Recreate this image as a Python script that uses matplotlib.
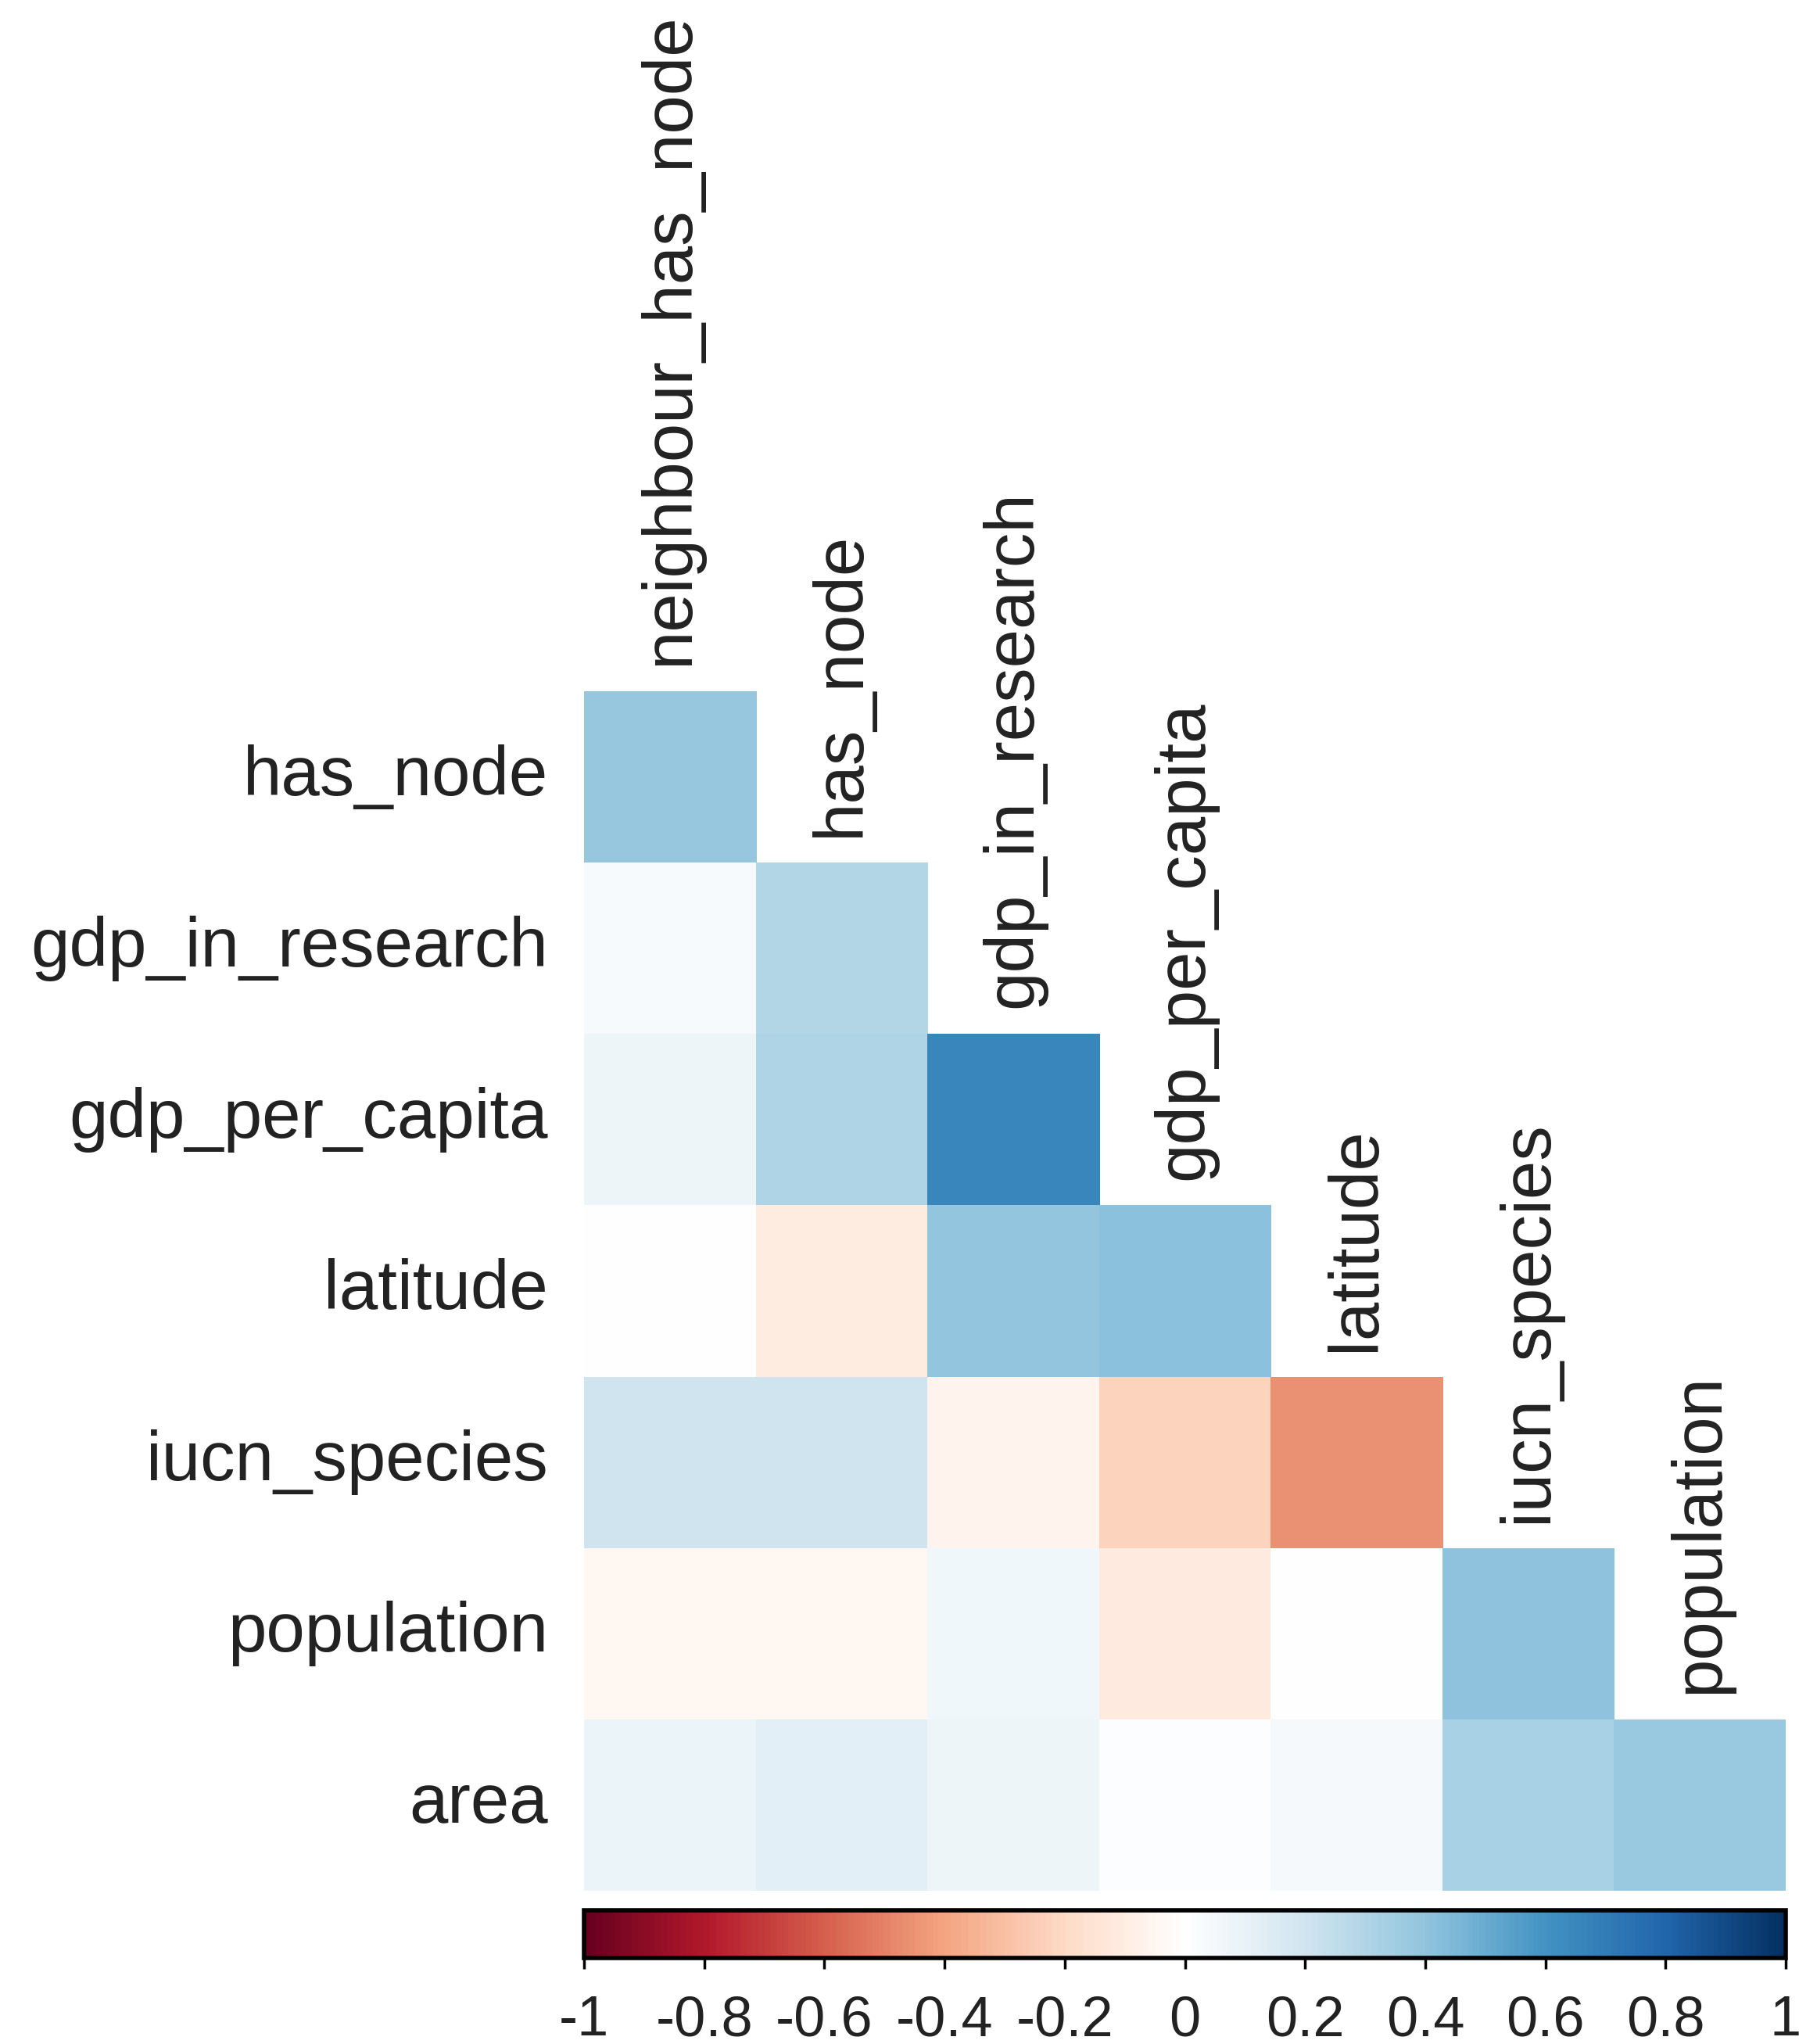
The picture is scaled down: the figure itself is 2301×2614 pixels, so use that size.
import numpy as np
import matplotlib
matplotlib.use('Agg')
import matplotlib.pyplot as plt
from matplotlib.colors import LinearSegmentedColormap

plt.rcParams['font.family'] = ['Liberation Sans', 'DejaVu Sans']

row_names = ['has_node', 'gdp_in_research', 'gdp_per_capita', 'latitude',
             'iucn_species', 'population', 'area']
col_names = ['neighbour_has_node', 'has_node', 'gdp_in_research', 'gdp_per_capita',
             'latitude', 'iucn_species', 'population']

# lower triangle, one list per row (left to right)
r_has_node = [0.38]
r_gdp_in_research = [0.03, 0.29]
r_gdp_per_capita = [0.07, 0.30, 0.65]
r_latitude = [-0.01, -0.11, 0.39, 0.41]
r_iucn_species = [0.20, 0.20, -0.07, -0.23, -0.46]
r_population = [-0.05, -0.05, 0.06, -0.12, 0.0, 0.40]
r_area = [0.08, 0.13, 0.07, 0.01, 0.04, 0.32, 0.37]
rows = [r_has_node, r_gdp_in_research, r_gdp_per_capita, r_latitude,
        r_iucn_species, r_population, r_area]

cbar_ticks = [-1, -0.8, -0.6, -0.4, -0.2, 0, 0.2, 0.4, 0.6, 0.8, 1]
cbar_labels = ['-1', '-0.8', '-0.6', '-0.4', '-0.2', '0', '0.2', '0.4', '0.6', '0.8', '1']

cols = ["#67001F", "#B2182B", "#D6604D", "#F4A582", "#FDDBC7", "#FFFFFF",
        "#D1E5F0", "#92C5DE", "#4393C3", "#2166AC", "#053061"]
cmap = LinearSegmentedColormap.from_list('rdbu', cols, N=200)

n = len(row_names)
mat = np.full((n, n), np.nan)
for i, r in enumerate(rows):
    mat[i, :len(r)] = r
mat = np.ma.masked_invalid(mat)

W, H = 2301, 2614
fig = plt.figure(figsize=(W / 100, H / 100), dpi=100)

ax = fig.add_axes([747 / W, 1 - 2418 / H, (2284 - 747) / W, (2418 - 884) / H])
mesh = ax.pcolormesh(np.arange(n + 1), np.arange(n + 1), mat, cmap=cmap,
                     vmin=-1, vmax=1, edgecolors='face', linewidth=0.5)
ax.set_xlim(0, n)
ax.set_ylim(n, 0)
ax.axis('off')

fs = 64
for i, name in enumerate(row_names):
    ax.text(-0.21, i + 0.5, name, ha='right', va='center', fontsize=fs,
            color='#222222', clip_on=False)
for j, name in enumerate(col_names):
    ax.text(j + 0.5, j - 0.15, name, ha='center', va='bottom', rotation=90,
            fontsize=fs, color='#222222', clip_on=False)

cax = fig.add_axes([747 / W, 1 - 2504 / H, (2284 - 747) / W, 61 / H])
cb = fig.colorbar(mesh, cax=cax, orientation='horizontal', ticks=cbar_ticks)
cb.outline.set_linewidth(4)
cb.outline.set_edgecolor('black')
cb.set_ticklabels(cbar_labels)
cax.tick_params(axis='x', length=10, width=2.5, pad=24, labelsize=52,
                labelcolor='#222222')

fig.savefig('out.png', dpi=100)
